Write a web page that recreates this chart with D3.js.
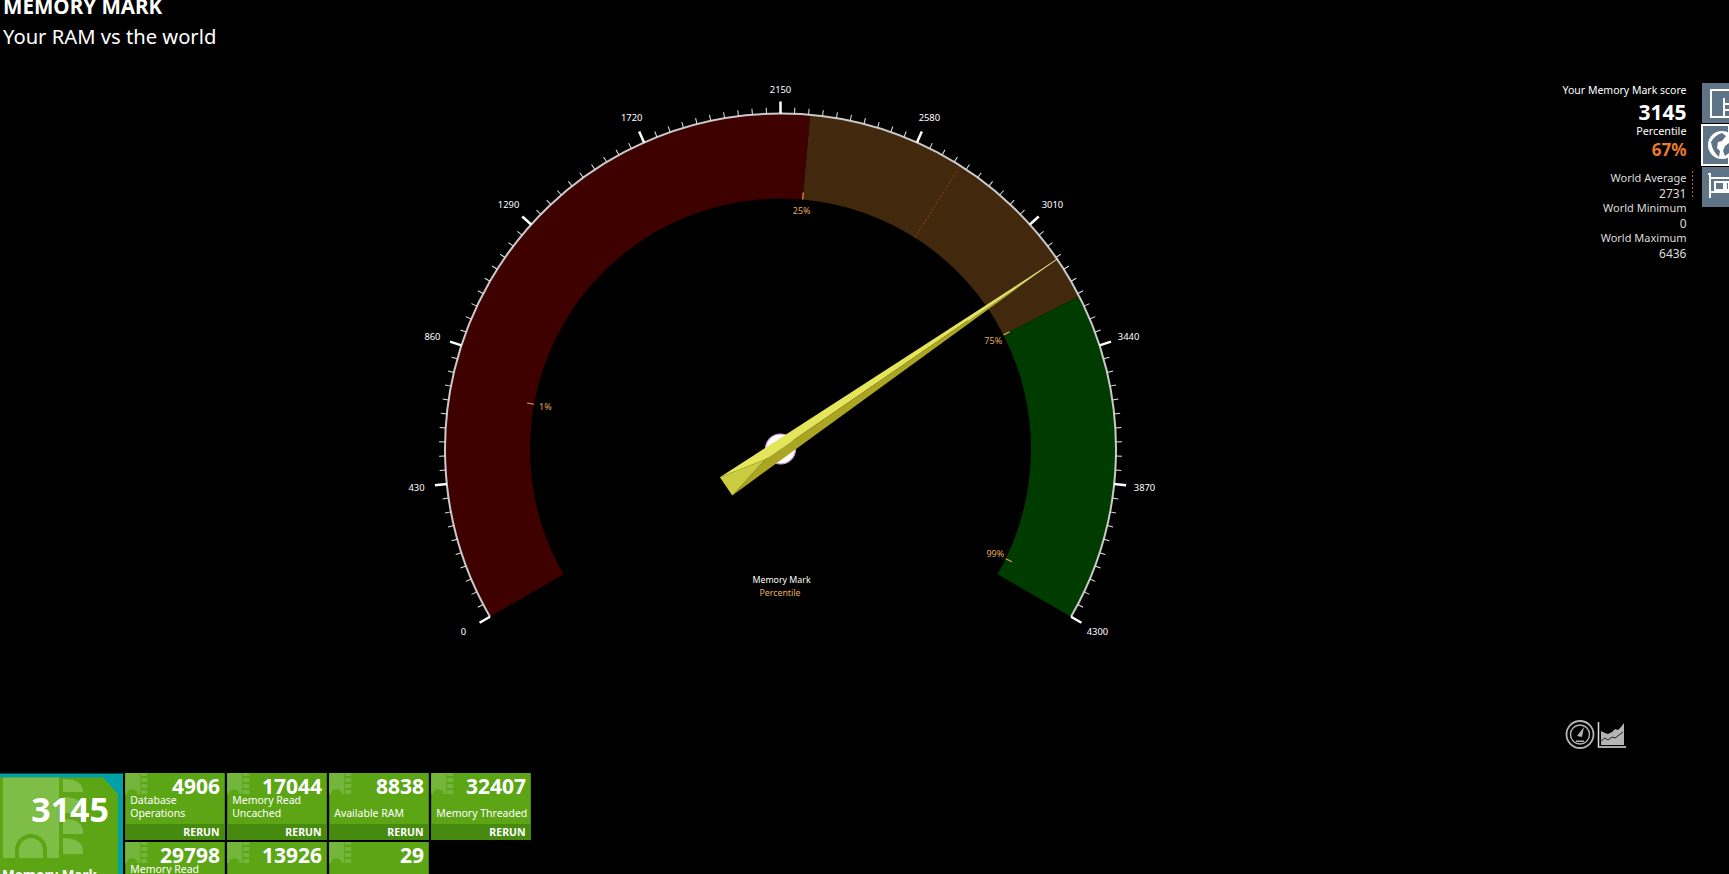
<!DOCTYPE html>
<html><head><meta charset="utf-8">
<script src="https://cdn.jsdelivr.net/npm/d3@7"></script>
<style>
html,body{margin:0;padding:0;background:#000;overflow:hidden}
svg{display:block;font-family:"Noto Sans","Open Sans",sans-serif}
text{fill:#fff}
</style></head><body>
<svg id="c" width="1729" height="874"></svg>
<script>
// ---- data ----
const scaleMin = 0, scaleMax = 4300, majorStep = 430, minorPerMajor = 10;
const score = 3145;
const bandEdges = [0, 2241, 3277, 4300];
const bandColors = ["#3f0000", "#42280c", "#003c00"];
const worldAverage = 2731;
const percentileValues = [722, 2241, 3277, 4228];
const percentileLabels = ["1%", "25%", "75%", "99%"];
const tileScores = [4906, 17044, 8838, 32407, 29798, 13926, 29];
const tileLabels = [["Database","Operations"],["Memory Read","Uncached"],["","Available RAM"],["","Memory Threaded"],["Memory Read",""],["",""],["",""]];
const tileRerun = [true,true,true,true,false,false,false];
const infoLabels = ["World Average","World Minimum","World Maximum"];
const infoValues = [2731, 0, 6436];

// ---- gauge ----
const svg = d3.select("#c");
const cx = 780.5, cy = 449, rO = 335.5, rI = 250.5;
const ang = d3.scaleLinear().domain([scaleMin, scaleMax]).range([-120, 120]);
const rad = d => ang(d) * Math.PI / 180;
const g = svg.append("g").attr("transform", `translate(${cx},${cy})`);
const arc = d3.arc().innerRadius(rI).outerRadius(rO);
g.selectAll("path.band").data(bandColors).join("path").attr("class","band")
 .attr("fill", d => d)
 .attr("d", (d,i) => arc({startAngle: rad(bandEdges[i]), endAngle: rad(bandEdges[i+1])}));
// world average divider
g.append("line").attr("transform", `rotate(${ang(worldAverage)})`)
 .attr("y1", -rI).attr("y2", -rO+6).attr("stroke", "#8a4418").attr("stroke-width", 1).attr("stroke-dasharray","2 2");
// outer axis
g.append("path").attr("fill","none").attr("stroke","#c9c9c9").attr("stroke-width",2)
 .attr("d", d3.arc().innerRadius(rO).outerRadius(rO)({startAngle:rad(scaleMin), endAngle:rad(scaleMax)}));
const majors = d3.range(scaleMin, scaleMax + 1, majorStep);
const minors = d3.range(scaleMin, scaleMax, majorStep / minorPerMajor).filter(v => v % majorStep !== 0);
g.selectAll("line.minor").data(minors).join("line").attr("class","minor")
 .attr("transform", d => `rotate(${ang(d)})`).attr("y1",-rO).attr("y2",-rO-6)
 .attr("stroke","#e4e4e4").attr("stroke-width",1);
g.selectAll("line.major").data(majors).join("line").attr("class","major")
 .attr("transform", d => `rotate(${ang(d)})`).attr("y1",-rO).attr("y2",-rO-12)
 .attr("stroke","#fff").attr("stroke-width",2.5);
const lblRx = 366;
const lblRy = d => 365.5 - 5.8 * Math.pow(Math.max(0, Math.cos(rad(d))), 8);
g.selectAll("text.maj").data(majors).join("text").attr("class","maj")
 .attr("x", d => lblRx * Math.sin(rad(d))).attr("y", d => -lblRy(d) * Math.cos(rad(d)))
 .attr("text-anchor","middle").attr("dominant-baseline","central")
 .attr("font-size",9.4).text(d => d);
// percentile markers
g.selectAll("line.pct").data(percentileValues).join("line").attr("class","pct")
 .attr("transform", d => `rotate(${ang(d)})`).attr("y1",-rI).attr("y2",-rI-7)
 .attr("stroke","#e8a040").attr("stroke-width",1.2);
g.selectAll("text.pct").data(percentileValues).join("text").attr("class","pct")
 .attr("x", d => 239 * Math.sin(rad(d))).attr("y", d => -239 * Math.cos(rad(d)))
 .attr("text-anchor","middle").attr("dominant-baseline","central")
 .attr("font-size",9).style("fill","#e0a860").text((d,i) => percentileLabels[i]);
g.append("text").attr("x",1).attr("y",134).attr("text-anchor","middle").attr("font-size",8.8).text("Memory Mark");
g.append("text").attr("x",-0.5).attr("y",147).attr("text-anchor","middle").attr("font-size",8.8).style("fill","#e8b060").text("Percentile");
// hub + needle
g.append("circle").attr("r",15).attr("fill","#fff").attr("stroke","#d79ae0").attr("stroke-width",1.2);
const n = g.append("g").attr("transform", `rotate(${ang(score)})`);
const tip = -337, tail = 66, hw = 11, ridge = 19;
n.append("polygon").attr("fill","#e5e55c").attr("points",`0,${tip} 0,${ridge} ${-hw},${tail}`);
n.append("polygon").attr("fill","#aaa522").attr("points",`0,${tip} 0,${ridge} ${hw},${tail}`);
n.append("polygon").attr("fill","#cccc40").attr("points",`0,${ridge} ${-hw},${tail} ${hw},${tail}`);
n.append("line").attr("y1",tip).attr("y2",tip+110).attr("stroke","#f0eeb0").attr("stroke-width",0.8);

// ---- header ----
svg.append("text").attr("x",3).attr("y",14).attr("font-size",20.6).attr("font-weight",700).text("MEMORY MARK");
svg.append("text").attr("x",3).attr("y",44).attr("font-size",20.2).text("Your RAM vs the world");

// ---- right info ----
const rx = 1686.5;
const right = (t,y,s,w,c) => svg.append("text").attr("x",rx).attr("y",y).attr("text-anchor","end")
  .attr("font-size",s).attr("font-weight",w||400).style("fill",c||"#fff").text(t);
right("Your Memory Mark score",94,10.5);
right(score,119.5,21,700);
right("Percentile",135,10.8);
right("67%",155.5,17,700,"#e87a30");
infoLabels.forEach((l,i) => { right(l,182+i*30,11,400,"#ddd"); right(infoValues[i],198+i*30,12,400,"#ddd"); });
svg.append("line").attr("x1",1692.5).attr("x2",1692.5).attr("y1",171).attr("y2",198)
  .attr("stroke","#b06a3a").attr("stroke-dasharray","2 2");
// side buttons
[83,125,167].forEach((y,i) => {
  svg.append("rect").attr("x",1702).attr("y",y).attr("width",27).attr("height",40).attr("fill","#5f7486")
    .attr("stroke", i===1?"#fff":"none").attr("stroke-width",2);
});
svg.append("path").attr("fill","none").attr("stroke","#fff").attr("stroke-width",2)
  .attr("d","M1729 90H1711V117H1729M1724 98v19M1724 104h5M1724 110h5");
svg.append("circle").attr("cx",1722).attr("cy",145).attr("r",14).attr("fill","#fff");
svg.append("path").attr("fill","#5f7486").attr("d","M1711 142q4-7 11-9l4 3-4 5-4 1-1 6 3 3-1 6q-7-6-8-15zM1725 146l4-3v10l-4 3-2-5z");
svg.append("path").attr("fill","none").attr("stroke","#fff").attr("stroke-width",2)
  .attr("d","M1708 174h2v24M1711 178h18M1711 192h18M1715 182h9v8h-9zM1726 182h3v8h-3z");

// ---- bottom-right icons ----
const ic = svg.append("g").attr("fill","none").attr("stroke","#b4b4b4");
ic.append("circle").attr("cx",1580).attr("cy",734.5).attr("r",13.5).attr("stroke-width",1.8);
ic.append("circle").attr("cx",1580).attr("cy",734.5).attr("r",9.5).attr("stroke-width",1.4);
ic.append("path").attr("fill","#b4b4b4").attr("stroke","none").attr("d","M1577 736l7-9-2 10zM1576 740.5h8v1.5h-8z");
svg.append("path").attr("fill","#b4b4b4").attr("d","M1601 745V731l4 2 3 1 4-2 3-3 3 1 3-3 3-4V745z");
svg.append("path").attr("fill","none").attr("stroke","#222").attr("d","M1601 741l4-3 3 2 4-3 3 1 4-3 4-3");
svg.append("path").attr("fill","none").attr("stroke","#ddd").attr("stroke-width",1.5).attr("d","M1598.5 722V747H1626");

// ---- tiles ----
const tileX = [125.2,227.2,329.2,431.2], tileW = 99.6, row1 = 773, row2 = 842;
const tg = svg.append("g");
tileScores.forEach((s,i) => {
  const col = i < 4 ? i : i - 4, x = tileX[col], y = i < 4 ? row1 : row2;
  tg.append("rect").attr("x",x).attr("y",y).attr("width",tileW).attr("height",67).attr("fill","#5ca616");
  // small chip glyph
  tg.append("path").attr("fill","#74b53c")
    .attr("d",`M${x} ${y}h15v21h-3v-2a6 6 0 0 0-10 0v2h-2zM${x+16} ${y}h6v3h-6zM${x+16} ${y+5}h6v4h-6zM${x+16} ${y+11}h6v4h-6zM${x+16} ${y+17}h6v4h-6z`);
  if (tileRerun[i]) {
    tg.append("rect").attr("x",x).attr("y",y+51).attr("width",tileW).attr("height",16).attr("fill","#478a10");
    tg.append("text").attr("x",x+tileW-5.3).attr("y",y+63).attr("text-anchor","end").attr("font-size",10.5).attr("font-weight",700).text("RERUN");
  }
  tg.append("text").attr("x",x+tileW-4.8).attr("y",y+21).attr("text-anchor","end").attr("font-size",21).attr("font-weight",700).text(s);
  const [a,b] = tileLabels[i];
  if (a) tg.append("text").attr("x",x+5).attr("y",y+30.5).attr("font-size",10.5).text(a);
  if (b) tg.append("text").attr("x",x+5).attr("y",y+43.7).attr("font-size",10.5).text(b);
});
// main tile
tg.append("rect").attr("x",0).attr("y",773.5).attr("width",123).attr("height",101).attr("fill","#00a0a6");
tg.append("path").attr("fill","#5ca616").attr("d","M0 777.5H103L118 794V874H0Z");
tg.append("path").attr("fill","#7ebd46").attr("d","M3 777.5H59V858H3Z");
tg.append("path").attr("fill","none").attr("stroke","#5ca616").attr("stroke-width",4).attr("d","M17 858V850a14 14 0 0 1 28 0V858");
tg.append("path").attr("fill","#7ebd46").attr("d","M63 779q20 0 20 13h-20zM63 797q20 0 20 13v3h-20zM63 819q20 0 20 13v2h-20zM63 838q20 0 20 14v2h-20z");
tg.append("text").attr("x",109).attr("y",821.5).attr("text-anchor","end").attr("font-size",34).attr("font-weight",700).text(score);
tg.append("text").attr("x",2).attr("y",880).attr("font-size",13.5).attr("font-weight",700).text("Memory Mark");
</script></body></html>
